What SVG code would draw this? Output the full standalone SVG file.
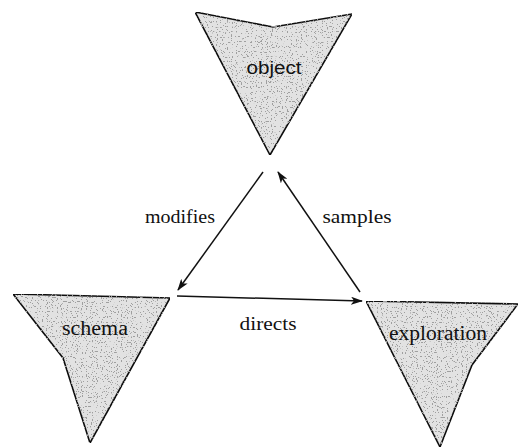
<svg xmlns="http://www.w3.org/2000/svg" width="518" height="448" viewBox="0 0 518 448">
<style>
.node{fill:#e2e2e2;stroke:#111;stroke-width:1.6;stroke-linejoin:miter;filter:url(#stip)}
.lbl{font-family:"Liberation Serif",serif;font-size:19px;fill:#111}
.conn line{stroke:#111;stroke-width:1.5;marker-end:url(#ah)}
</style>
<defs>
<filter id="stip" x="0" y="0" width="1" height="1">
<feTurbulence type="fractalNoise" baseFrequency="0.8" numOctaves="1" seed="3" result="n"/>
<feColorMatrix in="n" type="matrix" values="0 0 0 0 0.35  0 0 0 0 0.35  0 0 0 0 0.35  0 0 0 -30 11.5" result="dots"/>
<feComposite in="dots" in2="SourceGraphic" operator="in" result="d2"/>
<feMerge><feMergeNode in="SourceGraphic"/><feMergeNode in="d2"/></feMerge>
</filter>
<marker id="ah" viewBox="0 0 12 8" refX="11" refY="4" markerWidth="12" markerHeight="8" markerUnits="userSpaceOnUse" orient="auto">
<path d="M0,0 L12,4 L0,8 L3,4 Z" fill="#111"/>
</marker>
</defs>
<g id="object">
<path class="node" d="M195,12 L273,27 L352,14 L270,155 Z"/>
<text class="lbl" x="274" y="74" text-anchor="middle" style="font-family:'Liberation Sans',sans-serif;font-size:18px" textLength="55" lengthAdjust="spacingAndGlyphs">object</text>
</g>
<g id="schema">
<path class="node" d="M13,294 L170,298 L90,443 L63,358 Z"/>
<text class="lbl" x="95" y="335" text-anchor="middle" style="font-size:20px" textLength="66" lengthAdjust="spacingAndGlyphs">schema</text>
</g>
<g id="exploration">
<path class="node" d="M366,301 L518,304 L472,365 L440,447 Z"/>
<text class="lbl" x="438" y="340" text-anchor="middle" style="font-size:20px" textLength="98" lengthAdjust="spacingAndGlyphs">exploration</text>
</g>
<g id="connectors" class="conn">
<line x1="263" y1="172" x2="178" y2="290"/>
<line x1="360" y1="292" x2="278" y2="172"/>
<line x1="177" y1="296" x2="362" y2="301"/>
</g>
<g id="labels">
<text class="lbl" x="180" y="223" text-anchor="middle" textLength="70" lengthAdjust="spacingAndGlyphs">modifies</text>
<text class="lbl" x="357" y="223" text-anchor="middle" textLength="69" lengthAdjust="spacingAndGlyphs">samples</text>
<text class="lbl" x="268" y="330" text-anchor="middle" textLength="57" lengthAdjust="spacingAndGlyphs">directs</text>
</g>
</svg>
